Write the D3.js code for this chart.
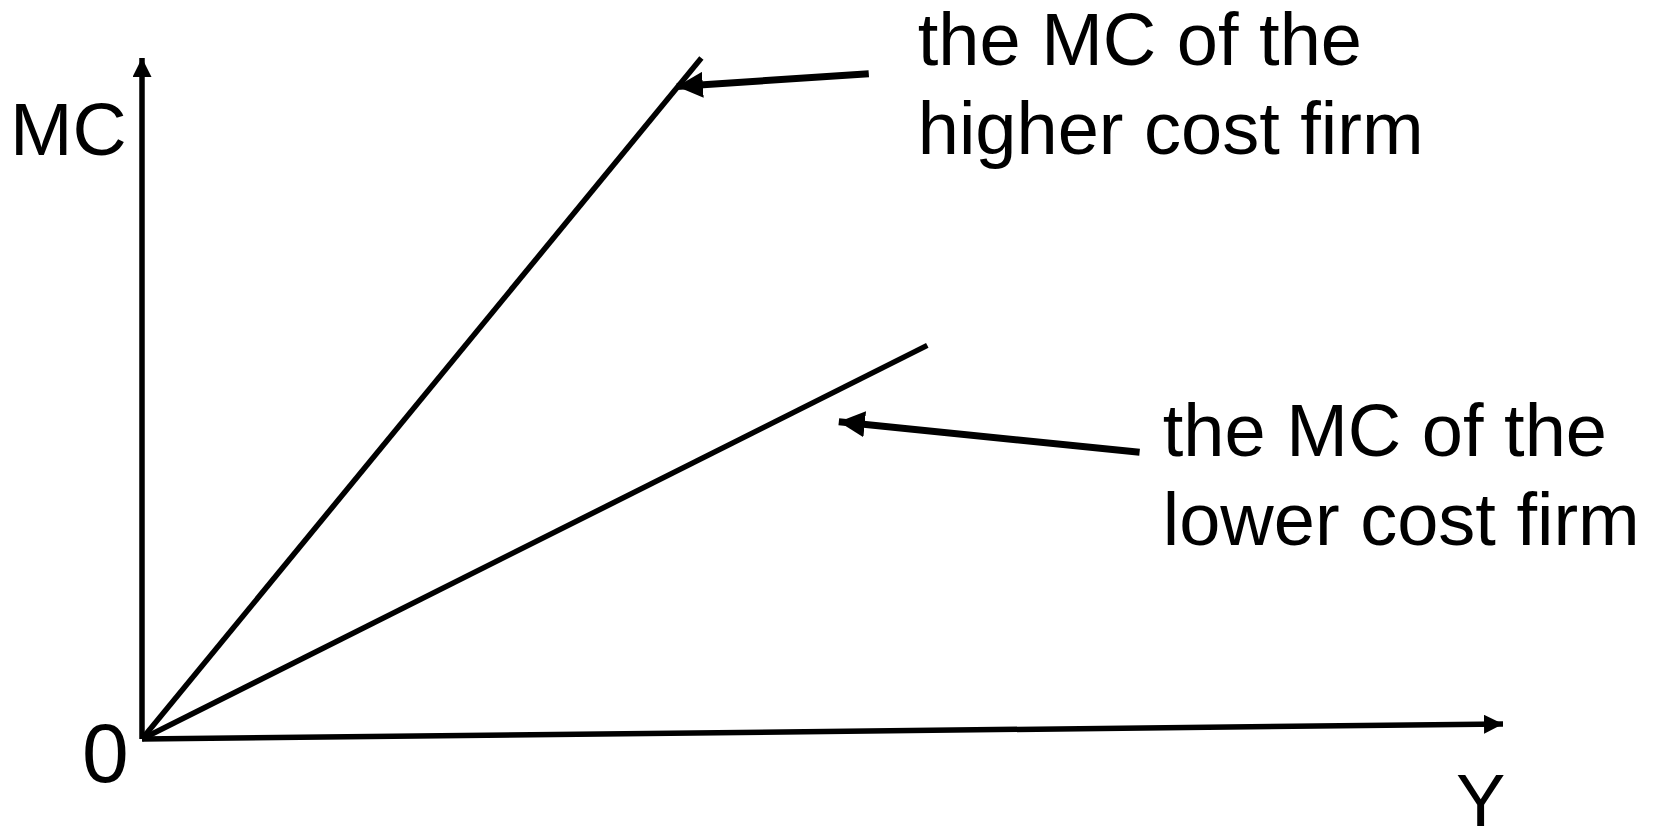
<!DOCTYPE html>
<html>
<head>
<meta charset="utf-8">
<script src="https://cdn.jsdelivr.net/npm/d3@7"></script>
<style>
  body { margin: 0; background: #fff; }
  svg text { font-family: "Liberation Sans", Arial, sans-serif; fill: #000; }
</style>
</head>
<body>
<div id="chart-area"></div>
<script>
// axes drawn from the origin to these ends (x axis rises a little, as in the original)
var axisEnds = [
  { name: "MC", x: 0, y: 100 },
  { name: "Y", x: 100, y: 2.2 }
];

// the two marginal cost curves
var mcHigher = [[0, 0], [41.1, 100]];
var mcLower = [[0, 0], [57.7, 57.8]];

// pointer arrows: tail -> tip
var pointers = [
  { from: [53.4, 97.7], to: [39.3, 95.8] },
  { from: [73.3, 42.1], to: [51.2, 46.6] }
];

// annotation texts, anchored at first baseline (in chart units)
var notes = [
  { lines: ["the MC of the", "higher cost firm"], x: 57.0, y: 99.0 },
  { lines: ["the MC of the", "lower cost firm"], x: 75.0, y: 41.5 }
];

var W = 1657, H = 827;

var svg = d3.select("#chart-area")
  .append("svg")
  .attr("width", W)
  .attr("height", H);

var x = d3.scaleLinear().domain([0, 100]).range([142, 1503]);
var y = d3.scaleLinear().domain([0, 100]).range([739, 58]);

var defs = svg.append("defs");
defs.append("marker")
  .attr("id", "axisHead")
  .attr("markerUnits", "userSpaceOnUse")
  .attr("viewBox", "0 0 19 19")
  .attr("markerWidth", 19)
  .attr("markerHeight", 19)
  .attr("refX", 19)
  .attr("refY", 9.5)
  .attr("orient", "auto")
  .append("path")
  .attr("d", "M0,0 L19,9.5 L0,19 Z")
  .attr("fill", "#000");

defs.append("marker")
  .attr("id", "pointHead")
  .attr("markerUnits", "userSpaceOnUse")
  .attr("viewBox", "0 0 26 26")
  .attr("markerWidth", 26)
  .attr("markerHeight", 26)
  .attr("refX", 26)
  .attr("refY", 13)
  .attr("orient", "auto")
  .append("path")
  .attr("d", "M0,0 L26,13 L0,26 Z")
  .attr("fill", "#000");

var line = d3.line()
  .x(function(d) { return x(d[0]); })
  .y(function(d) { return y(d[1]); });

// axes
svg.selectAll(".axis")
  .data(axisEnds)
  .enter()
  .append("path")
  .attr("class", "axis")
  .attr("d", function(d) { return line([[0, 0], [d.x, d.y]]); })
  .attr("stroke", "#000")
  .attr("stroke-width", 5.5)
  .attr("fill", "none")
  .attr("marker-end", "url(#axisHead)");

// MC curves
svg.selectAll(".mc")
  .data([mcHigher, mcLower])
  .enter()
  .append("path")
  .attr("class", "mc")
  .attr("d", line)
  .attr("stroke", "#000")
  .attr("stroke-width", 5.5)
  .attr("stroke-linecap", "butt")
  .attr("fill", "none");

// pointers
svg.selectAll(".pointer")
  .data(pointers)
  .enter()
  .append("path")
  .attr("class", "pointer")
  .attr("d", function(d) { return line([d.from, d.to]); })
  .attr("stroke", "#000")
  .attr("stroke-width", 7)
  .attr("fill", "none")
  .attr("marker-end", "url(#pointHead)");

// axis labels
svg.append("text")
  .attr("x", x(0) - 132)
  .attr("y", y(0) - 584)
  .attr("font-size", 75)
  .text("MC");

svg.append("text")
  .attr("x", x(0) - 60)
  .attr("y", y(0) + 43)
  .attr("font-size", 84)
  .text("0");

svg.append("text")
  .attr("x", x(axisEnds[1].x) - 47)
  .attr("y", y(0) + 87)
  .attr("font-size", 74)
  .text("Y");

// annotations
var note = svg.selectAll(".note")
  .data(notes)
  .enter()
  .append("text")
  .attr("class", "note")
  .attr("font-size", 74);

note.selectAll("tspan")
  .data(function(d) { return d.lines.map(function(l) { return { t: l, x: d.x, y: d.y }; }); })
  .enter()
  .append("tspan")
  .attr("x", function(d) { return x(d.x); })
  .attr("y", function(d, i) { return y(d.y) + i * 89; })
  .text(function(d) { return d.t; });
</script>
</body>
</html>
